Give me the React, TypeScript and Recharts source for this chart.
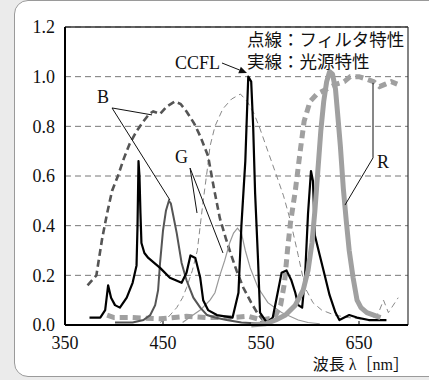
import React from 'react';
import { LineChart, Line, XAxis, YAxis, CartesianGrid, ReferenceLine, ReferenceDot } from 'recharts';

const xTicks = [350, 450, 550, 650];
const yTicks = [0, 0.2, 0.4, 0.6, 0.8, 1.0, 1.2];

const bFilter: [number, number][] = [
  [373, 0.16], [382, 0.2], [388, 0.35], [393, 0.45], [398, 0.54], [404, 0.6], [410, 0.67], [416, 0.73],
  [423, 0.78], [430, 0.82], [436, 0.85], [440, 0.86], [447, 0.85], [454, 0.88], [462, 0.9], [468, 0.89],
  [474, 0.86], [482, 0.81], [488, 0.76], [496, 0.68], [502, 0.55], [508, 0.43], [514, 0.35], [518, 0.3],
  [525, 0.22], [532, 0.15], [540, 0.09], [546, 0.05], [552, 0.02], [558, 0.0],
];
const gFilter: [number, number][] = [
  [447, 0.01], [455, 0.03], [464, 0.07], [470, 0.11], [474, 0.15], [480, 0.22], [485, 0.3], [491, 0.5],
  [495, 0.62], [498, 0.72], [503, 0.8], [511, 0.87], [520, 0.91], [529, 0.93], [536, 0.9], [543, 0.85],
  [549, 0.79], [557, 0.7], [566, 0.6], [573, 0.52], [580, 0.42], [588, 0.28], [595, 0.15], [603, 0.09],
  [612, 0.06], [625, 0.04], [639, 0.03], [663, 0.02], [670, 0.05], [675, 0.1], [680, 0.05], [685, 0.08], [690, 0.11],
];
const rFilter: [number, number][] = [
  [393, 0.04], [400, 0.03], [419, 0.03], [447, 0.025], [474, 0.035], [495, 0.03], [520, 0.03], [537, 0.035],
  [551, 0.02], [564, 0.03], [570, 0.08], [574, 0.17], [577, 0.3], [580, 0.41], [585, 0.54], [590, 0.7],
  [594, 0.82], [600, 0.9], [607, 0.93], [617, 0.95], [627, 0.97], [635, 0.98], [641, 1.0], [650, 1.0],
  [658, 0.99], [665, 0.98], [671, 0.96], [677, 0.97], [683, 0.98], [689, 0.97],
];
const ccfl: [number, number][] = [
  [375, 0.03], [386, 0.03], [391, 0.06], [394, 0.16], [397, 0.11], [401, 0.08], [406, 0.07], [413, 0.11],
  [419, 0.17], [423, 0.24], [424, 0.4], [425, 0.66], [426, 0.6], [427, 0.45], [428, 0.33], [431, 0.29],
  [435, 0.27], [447, 0.23], [457, 0.19], [469, 0.17], [474, 0.21], [478, 0.28], [483, 0.27], [488, 0.19],
  [491, 0.1], [496, 0.06], [505, 0.04], [521, 0.03], [527, 0.13], [530, 0.4], [534, 0.66], [536, 0.89],
  [537, 1.0], [540, 0.98], [542, 0.8], [544, 0.53], [547, 0.26], [549, 0.05], [556, 0.01], [562, 0.03],
  [567, 0.13], [571, 0.21], [576, 0.22], [581, 0.18], [585, 0.13], [588, 0.08], [592, 0.07], [595, 0.2],
  [598, 0.45], [601, 0.62], [603, 0.58], [605, 0.36], [610, 0.28], [615, 0.2], [620, 0.12], [626, 0.05],
  [630, 0.02], [640, 0.04], [648, 0.03], [660, 0.02], [678, 0.02],
];
const bSource: [number, number][] = [
  [401, 0.01], [419, 0.01], [430, 0.02], [437, 0.04], [442, 0.08], [445, 0.14], [447, 0.25], [450, 0.38],
  [453, 0.46], [456, 0.5], [458, 0.49], [460, 0.45], [464, 0.37], [469, 0.25], [474, 0.18], [481, 0.11],
  [488, 0.07], [495, 0.04], [503, 0.03], [515, 0.02], [530, 0.01], [552, 0.005],
];
const gSource: [number, number][] = [
  [470, 0.01], [477, 0.03], [488, 0.06], [498, 0.1], [503, 0.13], [508, 0.2], [513, 0.26], [518, 0.33],
  [522, 0.37], [526, 0.39], [530, 0.37], [534, 0.3], [539, 0.23], [547, 0.15], [557, 0.09], [571, 0.05],
  [588, 0.02], [598, 0.01], [610, 0.005],
];
const rSource: [number, number][] = [
  [540, 0.0], [555, 0.005], [565, 0.02], [575, 0.04], [585, 0.08], [593, 0.14], [598, 0.22], [602, 0.33],
  [605, 0.46], [608, 0.62], [611, 0.78], [614, 0.9], [617, 0.98], [620, 1.02], [623, 1.01], [626, 0.95],
  [628, 0.86], [631, 0.72], [634, 0.55], [637, 0.42], [640, 0.3], [644, 0.19], [648, 0.1], [652, 0.07],
  [658, 0.05], [665, 0.04], [672, 0.03],
];

const noteFilter = '点線：フィルタ特性';
const noteSource = '実線：光源特性';
const xTitle = '波長 λ［nm］';

const pts = (arr: [number, number][]) => arr.map(([x, y]) => ({ x, y }));

const FONT = "'Liberation Serif', 'Noto Sans CJK JP', serif";

const textShape = (label: string, anchor: string, size: number) => (p: any) => (
  <text x={p.cx} y={p.cy} textAnchor={anchor} dominantBaseline="central" fontSize={size} fontFamily={FONT} fill="#111">
    {label}
  </text>
);

const arrowShape = (p: any) => {
  const { x1, y1, x2, y2 } = p;
  const ang = Math.atan2(y2 - y1, x2 - x1);
  const L = 8, W = 3.5;
  const bx = x2 - L * Math.cos(ang), by = y2 - L * Math.sin(ang);
  const nx = -Math.sin(ang) * W, ny = Math.cos(ang) * W;
  return (
    <g>
      <line x1={x1} y1={y1} x2={bx} y2={by} stroke="#111" strokeWidth={1} />
      <polygon points={`${x2},${y2} ${bx + nx},${by + ny} ${bx - nx},${by - ny}`} fill="#111" />
    </g>
  );
};

const seg = (a: [number, number], b: [number, number], key: string) => (
  <ReferenceLine key={key} segment={[{ x: a[0], y: a[1] }, { x: b[0], y: b[1] }]} stroke="#111" strokeWidth={1} ifOverflow="visible" />
);

export default function App() {
  return (
    <div style={{ position: 'fixed', left: 0, top: 0, width: 429, height: 380, overflow: 'hidden', background: '#ebebeb' }}>
      <div style={{ position: 'absolute', left: 14, top: 0, width: 440, height: 377, border: '1px solid #9a9a9a', borderRadius: 14, background: '#fff', boxSizing: 'border-box' }} />
      <div style={{ position: 'absolute', left: 0, top: 0 }}>
        <LineChart width={429} height={380} margin={{ top: 27, right: 21, bottom: 25, left: 0 }}>
          <CartesianGrid horizontal vertical={false} stroke="#777" strokeDasharray="6 4" strokeWidth={1} />
          <XAxis
            dataKey="x"
            type="number"
            domain={[350, 700]}
            ticks={xTicks}
            allowDataOverflow
            height={30}
            tickLine={false}
            tickMargin={5}
            axisLine={{ stroke: '#000', strokeWidth: 2 }}
            tick={{ fontSize: 18, fontFamily: FONT, fill: '#111' }}
          />
          <YAxis
            type="number"
            domain={[0, 1.2]}
            ticks={yTicks}
            width={65}
            tickLine={false}
            tickMargin={4}
            axisLine={{ stroke: '#000', strokeWidth: 2 }}
            tickFormatter={(v: number) => v.toFixed(1)}
            tick={{ fontSize: 18, fontFamily: FONT, fill: '#111' }}
          />
          <ReferenceLine y={1.2} stroke="#333" strokeWidth={1.5} ifOverflow="visible" />
          <ReferenceLine x={700} stroke="#333" strokeWidth={1.2} ifOverflow="visible" />
          {xTicks.slice(1).map((t) => (
            <ReferenceLine key={'t' + t} segment={[{ x: t, y: 0 }, { x: t, y: 0.016 }]} stroke="#000" strokeWidth={1} />
          ))}

          <Line data={pts(gFilter)} dataKey="y" type="linear" dot={false} stroke="#888" strokeWidth={1} strokeDasharray="6 4" isAnimationActive={false} />
          <Line data={pts(bFilter)} dataKey="y" type="linear" dot={false} stroke="#555" strokeWidth={2.6} strokeDasharray="7 4" isAnimationActive={false} />
          <Line data={pts(rFilter)} dataKey="y" type="linear" dot={false} stroke="#a0a0a0" strokeWidth={5} strokeDasharray="8 5" isAnimationActive={false} />
          <Line data={pts(gSource)} dataKey="y" type="linear" dot={false} stroke="#999" strokeWidth={1.2} isAnimationActive={false} />
          <Line data={pts(bSource)} dataKey="y" type="linear" dot={false} stroke="#555" strokeWidth={2} isAnimationActive={false} />
          <Line data={pts(ccfl)} dataKey="y" type="linear" dot={false} stroke="#000" strokeWidth={2.2} strokeLinejoin="round" isAnimationActive={false} />
          <Line data={pts(rSource)} dataKey="y" type="linear" dot={false} stroke="#a0a0a0" strokeWidth={5} strokeLinejoin="round" isAnimationActive={false} />

          {seg([398, 0.874], [438.8, 0.846], 'b1')}
          {seg([398, 0.874], [457.1, 0.503], 'b2')}
          {seg([477.6, 0.632], [484.7, 0.451], 'g1')}
          {seg([477.6, 0.632], [511.2, 0.29], 'g2')}
          {seg([664.3, 0.975], [664.3, 0.673], 'r1')}
          {seg([664.3, 0.673], [635.7, 0.483], 'r2')}
          <ReferenceLine segment={[{ x: 510.2, y: 1.055 }, { x: 535.7, y: 1.015 }]} shape={arrowShape} ifOverflow="visible" />

          <ReferenceDot x={388.8} y={0.918} r={0} ifOverflow="visible" shape={textShape('B', 'middle', 18)} />
          <ReferenceDot x={469} y={0.677} r={0} ifOverflow="visible" shape={textShape('G', 'middle', 18)} />
          <ReferenceDot x={674.5} y={0.656} r={0} ifOverflow="visible" shape={textShape('R', 'middle', 18)} />
          <ReferenceDot x={485.2} y={1.055} r={0} ifOverflow="visible" shape={textShape('CCFL', 'middle', 18)} />
          <ReferenceDot x={535.7} y={1.148} r={0} ifOverflow="visible" shape={textShape(noteFilter, 'start', 17.5)} />
          <ReferenceDot x={535.7} y={1.059} r={0} ifOverflow="visible" shape={textShape(noteSource, 'start', 17.5)} />
          <ReferenceDot x={701} y={-0.158} r={0} ifOverflow="visible" shape={textShape(xTitle, 'end', 16)} />
        </LineChart>
      </div>
    </div>
  );
}
